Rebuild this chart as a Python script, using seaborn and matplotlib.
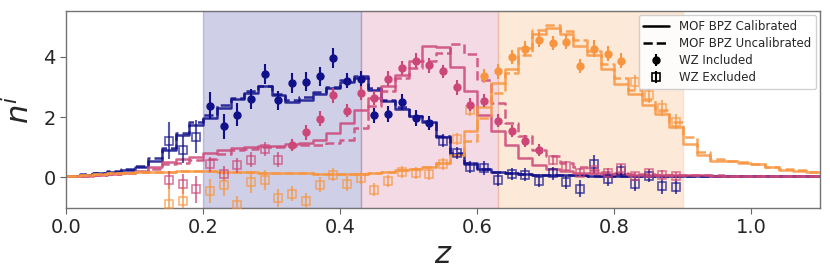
import numpy as np
import matplotlib
matplotlib.use("Agg")
import matplotlib.pyplot as plt
from matplotlib.lines import Line2D
import seaborn as sns

# ---------------- data ----------------
# histogram bin edges: 0.00 .. 1.10, width 0.02
bin_edges = np.round(np.arange(0.0, 1.1001, 0.02), 2)

blue_cal = [0.03, 0.08, 0.13, 0.18, 0.25, 0.34, 0.53, 0.90, 1.40, 1.72,
            1.98, 2.30, 2.59, 2.79, 3.03, 2.73, 2.51, 2.57, 2.78, 2.96,
            3.17, 3.30, 2.90, 2.52, 2.27, 2.02, 1.83, 1.32, 0.78, 0.45,
            0.27, 0.17, 0.12, 0.10, 0.08, 0.07, 0.06, 0.06, 0.05, 0.05,
            0.04, 0.04, 0.04, 0.03, 0.03, 0.03, 0.03, 0.03, 0.03, 0.03,
            0.03, 0.03, 0.03, 0.03, 0.03]
blue_uncal = [0.03, 0.09, 0.15, 0.20, 0.28, 0.38, 0.65, 0.98, 1.48, 1.85,
              2.08, 2.40, 2.63, 2.88, 3.03, 2.78, 2.57, 2.65, 2.82, 3.00,
              3.22, 3.36, 2.97, 2.56, 2.32, 2.05, 1.88, 1.38, 0.80, 0.47,
              0.28, 0.18, 0.12, 0.10, 0.08, 0.07, 0.06, 0.06, 0.05, 0.05,
              0.04, 0.04, 0.04, 0.03, 0.03, 0.03, 0.03, 0.03, 0.03, 0.03,
              0.03, 0.03, 0.03, 0.03, 0.03]
pink_cal = [0.02, 0.05, 0.08, 0.11, 0.15, 0.21, 0.34, 0.50, 0.60, 0.67,
            0.80, 0.89, 0.97, 0.99, 1.02, 1.05, 1.09, 1.13, 1.22, 1.46,
            1.81, 2.24, 2.63, 3.02, 3.41, 3.86, 4.37, 4.33, 3.66, 2.86,
            2.08, 1.52, 1.08, 0.63, 0.39, 0.28, 0.20, 0.15, 0.12, 0.10,
            0.09, 0.08, 0.07, 0.07, 0.06, 0.06, 0.06, 0.05, 0.05, 0.05,
            0.05, 0.05, 0.05, 0.05, 0.05]
pink_uncal = [0.02, 0.04, 0.07, 0.10, 0.13, 0.18, 0.26, 0.42, 0.48, 0.57,
              0.60, 0.76, 0.91, 0.95, 0.99, 1.00, 1.04, 1.07, 1.08, 1.12,
              1.22, 1.63, 2.35, 2.86, 3.30, 3.63, 3.88, 4.13, 4.43, 4.10,
              3.24, 2.47, 1.80, 1.36, 0.91, 0.69, 0.47, 0.33, 0.24, 0.17,
              0.13, 0.11, 0.09, 0.08, 0.07, 0.06, 0.06, 0.06, 0.05, 0.05,
              0.05, 0.05, 0.05, 0.05, 0.05]
orange_cal = [0.03, 0.06, 0.09, 0.12, 0.14, 0.16, 0.17, 0.18, 0.19, 0.19,
              0.19, 0.18, 0.17, 0.16, 0.15, 0.14, 0.13, 0.12, 0.11, 0.10,
              0.10, 0.11, 0.14, 0.18, 0.22, 0.26, 0.33, 0.47, 0.72, 1.52,
              2.32, 3.13, 3.60, 4.30, 4.77, 4.97, 4.75, 4.35, 4.05, 3.60,
              3.10, 2.75, 2.40, 2.10, 1.68, 1.10, 0.75, 0.55, 0.52, 0.48,
              0.43, 0.32, 0.24, 0.20, 0.17]
orange_uncal = [0.03, 0.06, 0.09, 0.12, 0.14, 0.16, 0.17, 0.18, 0.19, 0.19,
                0.19, 0.18, 0.17, 0.16, 0.15, 0.14, 0.13, 0.12, 0.11, 0.10,
                0.10, 0.11, 0.14, 0.18, 0.22, 0.26, 0.33, 0.47, 0.72, 1.19,
                1.97, 2.80, 3.47, 4.08, 4.91, 5.05, 4.85, 4.55, 4.20, 3.75,
                3.30, 2.90, 2.55, 2.25, 1.85, 1.32, 0.85, 0.60, 0.55, 0.50,
                0.45, 0.35, 0.26, 0.22, 0.18]

# WZ clustering points: z = 0.15, 0.17, ..., 0.89
wz_z = np.round(np.arange(0.15, 0.8901, 0.02), 2)

blue_wz = [1.21, 0.91, 1.35, 2.38, 1.69, 2.08, 2.60, 3.43, 2.55, 3.13,
           3.18, 3.35, 3.97, 3.21, 3.28, 2.06, 2.10, 2.50, 1.97, 1.80,
           1.21, 0.79, 0.35, 0.30, -0.10, 0.10, 0.08, -0.12, 0.13, -0.18,
           -0.39, 0.42, -0.06, 0.21, -0.22, 0.05, -0.31, -0.33]
blue_err = [0.62, 0.45, 0.55, 0.45, 0.42, 0.38, 0.33, 0.32, 0.30, 0.32,
            0.33, 0.33, 0.33, 0.25, 0.25, 0.25, 0.25, 0.25, 0.27, 0.22,
            0.22, 0.20, 0.20, 0.22, 0.20, 0.20, 0.22, 0.22, 0.22, 0.22,
            0.28, 0.30, 0.25, 0.22, 0.25, 0.22, 0.25, 0.25]
pink_wz = [-0.10, -0.23, -0.41, 0.43, 0.11, 0.39, 0.58, 0.94, 0.58, 1.06,
           1.50, 1.94, 2.72, 2.21, 2.80, 2.63, 3.28, 3.63, 3.88, 3.72,
           3.52, 2.99, 2.41, 2.54, 1.88, 1.54, 1.21, 0.89, 0.58, 0.38,
           0.15, 0.25, 0.14, 0.30, 0.02, 0.12, 0.08, 0.03]
pink_err = [0.30, 0.32, 0.46, 0.25, 0.25, 0.25, 0.24, 0.24, 0.24, 0.20,
            0.25, 0.25, 0.25, 0.22, 0.22, 0.22, 0.25, 0.22, 0.25, 0.25,
            0.22, 0.25, 0.22, 0.22, 0.22, 0.20, 0.20, 0.20, 0.17, 0.17,
            0.15, 0.15, 0.15, 0.15, 0.15, 0.15, 0.15, 0.15]
orange_wz = [-0.90, -0.79, -1.50, -0.46, -0.28, -0.92, -0.17, -0.09, -0.70, -0.56,
             -0.79, -0.26, 0.08, -0.22, -0.03, -0.42, -0.12, 0.17, 0.13, 0.10,
             0.42, 1.27, 2.24, 3.36, 3.52, 3.99, 4.28, 4.58, 4.47, 4.51,
             3.69, 4.28, 4.10, 3.88, 3.15, 2.72, 2.30, 1.85]
orange_err = [0.70, 0.50, 0.40, 0.40, 0.36, 0.30, 0.36, 0.33, 0.30, 0.25,
              0.25, 0.25, 0.22, 0.25, 0.20, 0.22, 0.20, 0.20, 0.20, 0.20,
              0.20, 0.20, 0.22, 0.24, 0.24, 0.24, 0.25, 0.24, 0.24, 0.25,
              0.24, 0.27, 0.25, 0.25, 0.25, 0.25, 0.25, 0.25]

# redshift ranges of the WZ points used in the calibration
incl_ranges = [(0.21, 0.53), (0.33, 0.69), (0.61, 0.81)]
# tomographic bin limits (shaded)
tomo_edges = [0.20, 0.43, 0.63, 0.90]

colors = ["#10108a", "#cc4778", "#f89540"]

# ---------------- plot ----------------
sns.set_style("ticks")
plt.rcParams["font.family"] = ["DejaVu Sans"]
plt.rcParams["mathtext.fontset"] = "dejavusans"

fig = plt.figure(figsize=(8.3, 2.77), dpi=100)
ax = fig.add_axes([66 / 830, 69 / 277, 754 / 830, 197 / 277])

for i in range(3):
    ax.axvspan(tomo_edges[i], tomo_edges[i + 1], color=colors[i], alpha=0.2, lw=1)

hists = [(blue_cal, blue_uncal), (pink_cal, pink_uncal), (orange_cal, orange_uncal)]
for i, (cal, uncal) in enumerate(hists):
    for vals, ls in [(uncal, "--"), (cal, "-")]:
        yy = np.append(vals, vals[-1])
        sns.lineplot(x=bin_edges, y=yy, drawstyle="steps-post", color=colors[i],
                     linestyle=ls, lw=1.8, alpha=0.85, estimator=None, sort=False, ax=ax)

points = [(blue_wz, blue_err), (pink_wz, pink_err), (orange_wz, orange_err)]
for i, (vals, errs) in enumerate(points):
    vals = np.array(vals)
    errs = np.array(errs)
    lo, hi = incl_ranges[i]
    inc = (wz_z >= lo - 1e-6) & (wz_z <= hi + 1e-6)
    ax.errorbar(wz_z[inc], vals[inc], yerr=errs[inc], fmt="o", color=colors[i],
                ms=5, elinewidth=1.5, capsize=0, zorder=5)
    ax.errorbar(wz_z[~inc], vals[~inc], yerr=errs[~inc], fmt="s", color=colors[i],
                mfc="none", mec=colors[i], ms=5.5, mew=1.2, elinewidth=1.5,
                capsize=0, alpha=0.7, zorder=4)

ax.set_xlim(0, 1.1)
ax.set_ylim(-1.03, 5.53)
ax.set_xticks([0.0, 0.2, 0.4, 0.6, 0.8, 1.0])
ax.set_yticks([0, 2, 4])
ax.tick_params(labelsize=14, direction="out", length=4, color="0.4")
ax.set_xlabel("$z$", fontsize=22, labelpad=2)
ax.set_ylabel("$n^i$", fontsize=22, labelpad=6)
for sp in ax.spines.values():
    sp.set_color("0.45")
    sp.set_linewidth(1.0)

h_cal = Line2D([], [], color="k", ls="-", lw=1.8)
h_uncal = Line2D([], [], color="k", ls="--", lw=1.8)
h_inc = ax.errorbar([np.nan], [np.nan], yerr=[np.nan], fmt="o", color="k", ms=5, elinewidth=1.5)
h_exc = ax.errorbar([np.nan], [np.nan], yerr=[np.nan], fmt="s", color="k", mfc="none",
                    ms=5.5, mew=1.2, elinewidth=1.5)
ax.legend([h_cal, h_uncal, h_inc, h_exc],
          ["MOF BPZ Calibrated", "MOF BPZ Uncalibrated", "WZ Included", "WZ Excluded"],
          loc="upper right", fontsize=8.5, framealpha=0.9, borderaxespad=0.35,
          handlelength=2.2, labelspacing=0.35)

fig.savefig("out.png", dpi=100)
